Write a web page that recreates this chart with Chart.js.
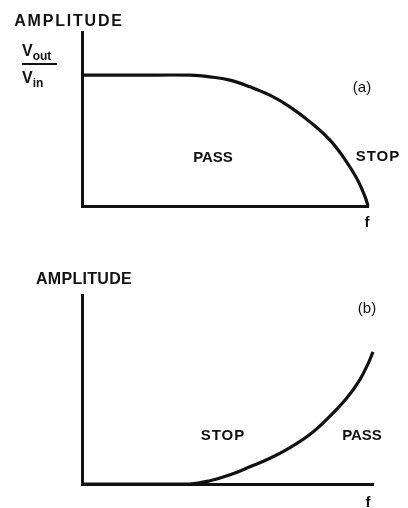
<!DOCTYPE html>
<html>
<head>
<meta charset="utf-8">
<script src="https://cdn.jsdelivr.net/npm/chart.js@4.4.1/dist/chart.umd.min.js"></script>
<style>
  body { margin: 0; background: #fff; }
  #wrap { position: relative; width: 408px; height: 508px; overflow: hidden;
          font-family: "Liberation Sans", Arial, sans-serif; color: #111; }
  canvas { position: absolute; left: 0; }
  .lbl { position: absolute; transform: translate(-50%, -50%); white-space: nowrap;
         font-weight: bold; font-size: 15px; line-height: 1; }
  .sub { font-size: 12px; position: relative; top: 4px; }
</style>
</head>
<body>
<div id="wrap">
  <canvas id="chart-a" width="408" height="250" style="top:0"></canvas>
  <canvas id="chart-b" width="408" height="258" style="top:250px"></canvas>

  <div class="lbl" style="left:69px; top:21px; font-size:16px; letter-spacing:1.8px;">AMPLITUDE</div>
  <div style="position:absolute; left:22px; top:42px; font-size:16px; font-weight:bold; line-height:17px;">
    <div style="width:35px; border-bottom:2px solid #111; padding-bottom:2px;">V<span class="sub">out</span></div>
    <div style="margin-top:4px;">V<span class="sub">in</span></div>
  </div>
  <div class="lbl" style="left:362px; top:86px; font-weight:normal;">(a)</div>
  <div class="lbl" style="left:213px; top:156px;">PASS</div>
  <div class="lbl" style="left:378px; top:155px; letter-spacing:1px;">STOP</div>
  <div class="lbl" style="left:367px; top:221px;">f</div>

  <div class="lbl" style="left:84px; top:279px; font-size:16px; letter-spacing:0.3px;">AMPLITUDE</div>
  <div class="lbl" style="left:367px; top:307px; font-weight:normal;">(b)</div>
  <div class="lbl" style="left:223px; top:434px; letter-spacing:1px;">STOP</div>
  <div class="lbl" style="left:362px; top:434px;">PASS</div>
  <div class="lbl" style="left:368px; top:501px;">f</div>
</div>

<script>
// (a) low-pass response: frequency vs amplitude (Vout/Vin)
const freqA = [0, 2.0, 3.78, 4.48, 5.17, 5.87, 6.57, 7.27, 7.97, 8.67, 9.13, 9.6, 9.9, 10];
const ampA  = [1, 1, 1.0, 0.987, 0.962, 0.911, 0.847, 0.758, 0.643, 0.504, 0.376, 0.214, 0.07, 0];

// (b) high-pass response
const freqB = [0, 2.0, 3.7, 4.4, 5.09, 5.77, 6.46, 7.15, 7.84, 8.52, 9.1, 9.55, 9.84, 10];
const ampB  = [0, 0, 0, 0.025, 0.07, 0.13, 0.195, 0.276, 0.376, 0.513, 0.65, 0.79, 0.915, 1.0];

document.addEventListener("DOMContentLoaded", function() {
    const ink = "#111";

    function makeChart(id, xs, ys, yMax, padding) {
        const ctx = document.getElementById(id).getContext("2d");
        return new Chart(ctx, {
            type: "line",
            data: {
                datasets: [{
                    data: xs.map((x, i) => ({ x: x, y: ys[i] })),
                    borderColor: ink,
                    borderWidth: 3.2,
                    pointRadius: 0,
                    fill: false,
                    tension: 0.4,
                    clip: false
                }]
            },
            options: {
                responsive: false,
                animation: false,
                layout: { padding: padding },
                plugins: { legend: { display: false }, tooltip: { enabled: false } },
                scales: {
                    x: {
                        type: "linear", min: 0, max: 10,
                        grid: { display: false, drawTicks: false },
                        ticks: { display: false },
                        border: { display: true, color: ink, width: 3 }
                    },
                    y: {
                        min: 0, max: yMax,
                        grid: { display: false, drawTicks: false },
                        ticks: { display: false },
                        border: { display: true, color: ink, width: 3 }
                    }
                }
            }
        });
    }

    makeChart("chart-a", freqA, ampA, 1.33, { left: 82, top: 32, right: 40, bottom: 44 });
    makeChart("chart-b", freqB, ampB, 1.43, { left: 82, top: 45, right: 35, bottom: 24 });
});
</script>
</body>
</html>
